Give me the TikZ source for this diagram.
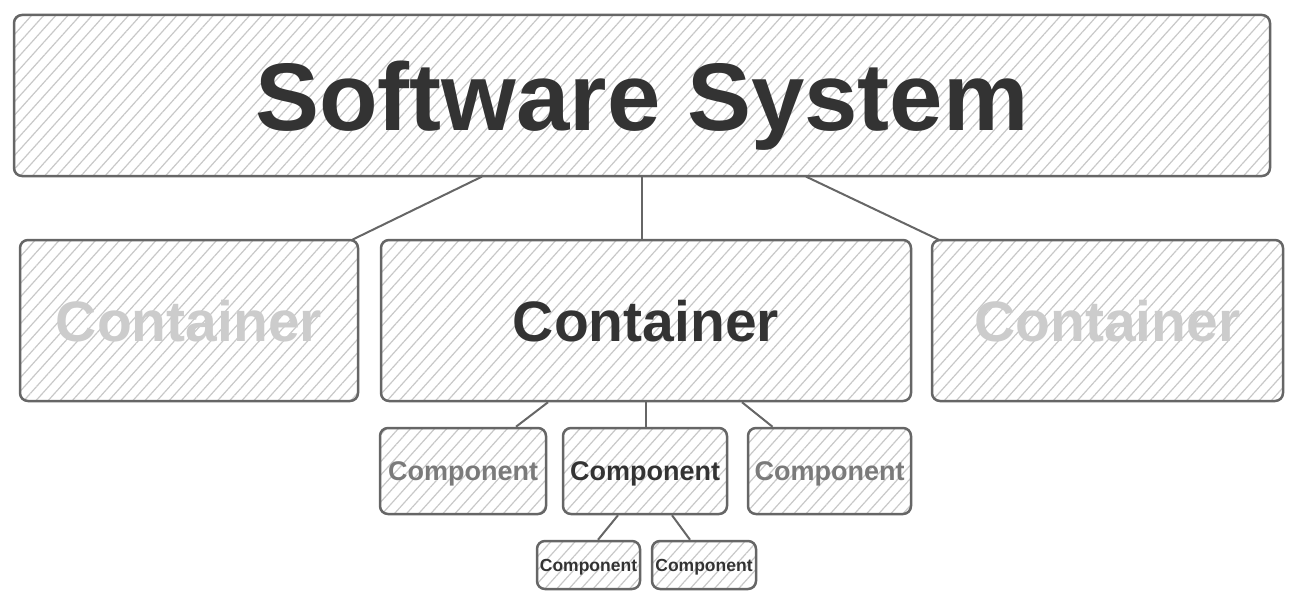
\documentclass[tikz,border=0pt]{standalone}
\usepackage{fontspec}
\setmainfont{Liberation Sans}
\usetikzlibrary{patterns.meta,calc}
\definecolor{edge}{HTML}{666666}
\definecolor{dark}{HTML}{333333}
\definecolor{lite}{HTML}{CCCCCC}
\definecolor{mid}{HTML}{7A7A7A}
\definecolor{hatch}{HTML}{C8C8C8}
\begin{document}
\begin{tikzpicture}[x=1pt,y=-1pt,
  box/.style={draw=edge, line width=2.5pt, rounded corners=8pt,
    pattern={Lines[angle=48,distance=9pt,line width=1.2pt]}, pattern color=hatch,
    inner sep=0pt, text depth=0pt},
  big/.style={font=\bfseries\fontsize{96}{100}\selectfont},
  cont/.style={font=\bfseries\fontsize{57}{60}\selectfont},
  comp/.style={font=\bfseries\fontsize{27}{30}\selectfont},
  small/.style={font=\bfseries\fontsize{17.5}{20}\selectfont},
  link/.style={draw=edge, line width=2pt}]
\useasboundingbox (0,0) rectangle (1298,602);
\node[box, big, text=dark, minimum width=1256pt, minimum height=161pt] (ss) at (642,95.5) {Software System};
\node[box, cont, text=lite, minimum width=338pt, minimum height=161pt] (c1) at (189,320.5) {Container};
\node[box, cont, text=dark, minimum width=530pt, minimum height=161pt] (c2) at (646,320.5) {Container};
\node[box, cont, text=lite, minimum width=351pt, minimum height=161pt] (c3) at (1107.5,320.5) {Container};
\node[box, comp, text=mid, minimum width=166pt, minimum height=86pt] (p1) at (463,471) {Component};
\node[box, comp, text=dark, minimum width=164pt, minimum height=86pt] (p2) at (645,471) {Component};
\node[box, comp, text=mid, minimum width=163pt, minimum height=86pt] (p3) at (829.5,471) {Component};
\node[box, small, text=dark, minimum width=103pt, minimum height=48pt] (s1) at (588.5,565) {Component};
\node[box, small, text=dark, minimum width=104pt, minimum height=48pt] (s2) at (704,565) {Component};
\draw[link] ($(ss.south)+(-160,0)$) -- ($(c1.north east)+(-7,1)$);
\draw[link] (ss.south) -- (ss.south |- c2.north);
\draw[link] ($(ss.south)+(164,0)$) -- ($(c3.north west)+(8,1)$);
\draw[link] ($(c2.south)+(-98,0)$) -- ($(p1.north)+(53,0)$);
\draw[link] (c2.south) -- (c2.south |- p2.north);
\draw[link] ($(c2.south)+(96,0)$) -- ($(p3.north)+(-57,0)$);
\draw[link] ($(p2.south)+(-27,0)$) -- ($(s1.north)+(9.5,0)$);
\draw[link] ($(p2.south)+(27,0)$) -- ($(s2.north)+(-14,0)$);
\end{tikzpicture}
\end{document}
